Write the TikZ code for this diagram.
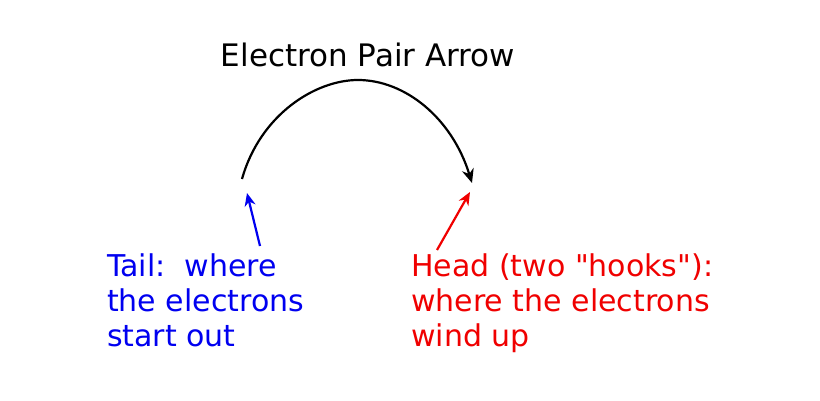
\documentclass[tikz,border=0pt]{standalone}
\usepackage{fontspec}
\setmainfont{DejaVu Sans}
\newfontfamily\qf{DejaVu Sans}
\usetikzlibrary{arrows.meta}
\definecolor{tblue}{RGB}{0,0,240}
\definecolor{tred}{RGB}{240,0,0}
\begin{document}
\begin{tikzpicture}[x=1pt,y=-1pt,
  lbl/.style={anchor=north west,align=left,font=\fontsize{30}{35}\selectfont,inner sep=0pt},
  ptr/.style={line width=2.2pt,-{Stealth[length=13pt,width=11pt]}}]
\fill[white] (0,0) rectangle (820,401);
\node[font=\fontsize{31}{31}\selectfont] (title) at (368,55) {Electron Pair Arrow};
\coordinate (tail) at (242,179);
\coordinate (head) at (472,183);
\draw[line width=2.2pt,-{Stealth[length=14pt,width=12pt]}] (tail) .. controls (260,115) and (315,80) .. (358,80) .. controls (405,80) and (452,118) .. (head);
\node[lbl,text=tblue] (tl) at (107,254) {Tail:\ \ where\\the electrons\\start out};
\node[lbl,text=tred] (hl) at (411,254) {Head (two {\qf"}hooks{\qf"}):\\where the electrons\\wind up};
\coordinate (ta) at (260,246);
\coordinate (tb) at (247,193);
\coordinate (ha) at (437,250);
\coordinate (hb) at (470,192);
\draw[ptr,tblue] (ta) -- (tb);
\draw[ptr,tred] (ha) -- (hb);
\end{tikzpicture}
\end{document}
